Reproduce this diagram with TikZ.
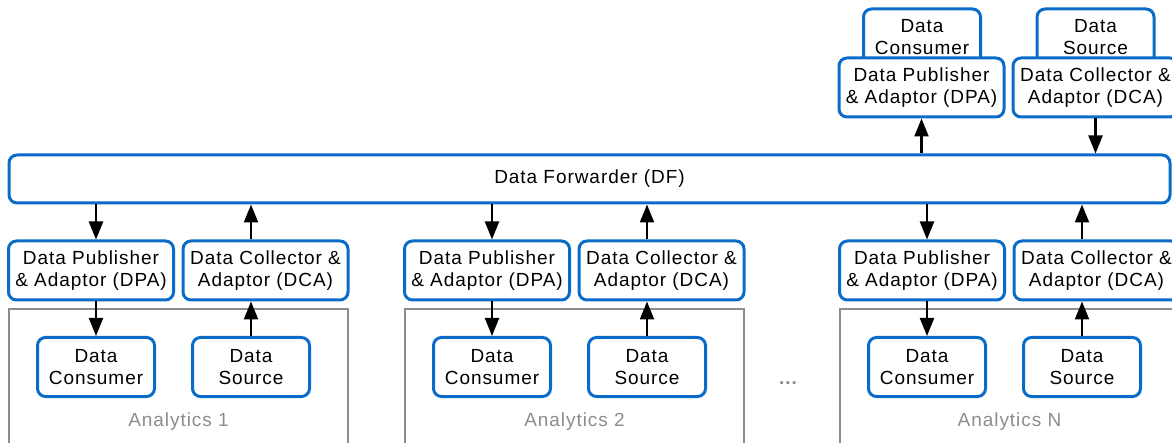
\documentclass[tikz,border=0pt]{standalone}
\usepackage{fontspec}
\setmainfont{Liberation Sans}[LetterSpace=5]
\usetikzlibrary{arrows.meta}
\definecolor{boxblue}{HTML}{0A6CC8}
\definecolor{grpgray}{HTML}{8C8C8C}
\tikzset{
  bx/.style={draw=boxblue, line width=3pt, rounded corners=8pt, fill=white, align=center,
    inner sep=0pt, font=\fontsize{19}{21.5}\selectfont, text=black},
  pub/.style={bx, minimum width=165pt, minimum height=59pt},
  leaf/.style={bx, minimum width=117pt, minimum height=59pt},
  arr/.style={line width=2.2pt, -{Triangle[length=18pt,width=14pt]}},
  grp/.style={draw=grpgray, line width=1.5pt},
  glabel/.style={text=grpgray, font=\fontsize{19}{21.5}\selectfont}
}
\begin{document}
\begin{tikzpicture}[x=1pt,y=-1pt]
\useasboundingbox (0,0) rectangle (1172,443);
\clip (0,0) rectangle (1172,443);

% Data Forwarder
\node[bx, minimum width=1161pt, minimum height=48pt] (df) at (589.5,179) {Data Forwarder (DF)};

% Analytics groups
\foreach \g/\o/\lab in {1/0/1, 2/396/2, n/831/N}{
  \draw[grp] ({\o+9},309) -- ({\o+9},470) -- ({\o+348},470) -- ({\o+348},309) -- cycle;
  \node[glabel] (lab\g) at ({\o+178.5},422) {Analytics \lab};
  \node[pub] (p\g) at ({\o+91},270.5) {Data Publisher\\\& Adaptor (DPA)};
  \node[pub] (d\g) at ({\o+265.5},270.5) {Data Collector \&\\Adaptor (DCA)};
  \node[leaf] (c\g) at ({\o+96},367) {Data\\Consumer};
  \node[leaf] (s\g) at ({\o+251},367) {Data\\Source};
  \draw[arr] (df.south -| c\g.north) -- (p\g.north -| c\g.north);
  \draw[arr] (d\g.north -| s\g.north) -- (df.south -| s\g.north);
  \draw[arr] (p\g.south -| c\g.north) -- (c\g.north);
  \draw[arr] (s\g.north) -- (d\g.south -| s\g.north);
}

\node[text=grpgray, font=\fontsize{19}{21.5}\selectfont\bfseries] (dots) at (788,383) {...};

% Top external
\node[leaf, minimum height=56pt] (tc) at (922,37) {Data\\Consumer};
\node[leaf, minimum height=56pt] (ts) at (1095.5,37) {Data\\Source};
\node[pub] (tp) at (921.5,87.5) {Data Publisher\\\& Adaptor (DPA)};
\node[pub] (td) at (1095.5,87.5) {Data Collector \&\\Adaptor (DCA)};
\draw[arr] (df.north -| tp.south) -- (tp.south);
\draw[arr] (td.south) -- (df.north -| td.south);
\end{tikzpicture}
\end{document}
